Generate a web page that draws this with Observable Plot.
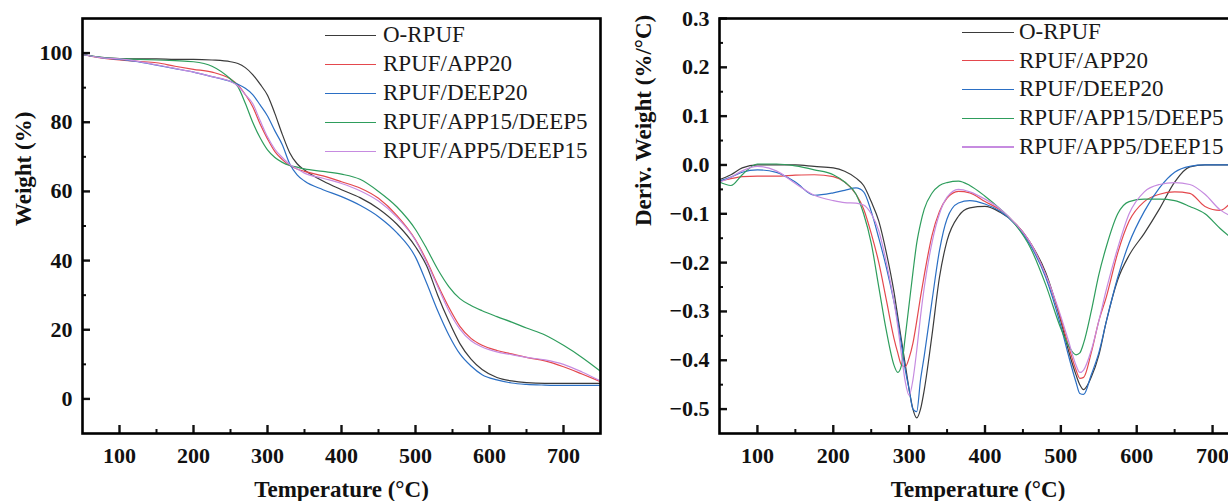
<!DOCTYPE html>
<html><head><meta charset="utf-8">
<script src="https://cdn.jsdelivr.net/npm/d3@7"></script>
<script src="https://cdn.jsdelivr.net/npm/@observablehq/plot@0.6"></script>
<style>
body{margin:0;background:#fff;}
#wrap{position:relative;width:1228px;height:501px;overflow:hidden;background:#fff;font-family:"Liberation Serif","Times New Roman",serif;}
.p{position:absolute;top:0;}
.p text{font-family:"Liberation Serif","Times New Roman",serif !important;}
.row{position:absolute;height:26px;line-height:26px;font-size:23px;color:#1a1a1a;white-space:nowrap;}
.row .ln{position:absolute;left:0;top:12.5px;height:1.3px;}
.row .tx{position:absolute;top:0;}
</style></head><body><div id="wrap"></div>
<script>
const series = ["O-RPUF","RPUF/APP20","RPUF/DEEP20","RPUF/APP15/DEEP5","RPUF/APP5/DEEP15"];
const colors = ["#3b3b3b","#e4484d","#2b6fc4","#2e9d5c","#c68be0"];

// TGA (left)
const tgaTemp = [50,75,100,125,150,175,200,225,250,260,270,280,290,300,310,320,330,340,350,375,400,425,450,475,500,515,530,545,560,575,590,610,630,650,675,700,725,750];
const tgaORPUF = [99.6,98.8,98.4,98.3,98.3,98.2,98.2,98,97.5,97,95.8,93.8,91,87.8,82.5,76.5,71.2,68,66.2,63,60.5,58.2,55,50.5,44,38.5,30,22.5,16,11.5,8.5,6.2,5.2,4.7,4.5,4.5,4.5,4.5];
const tgaAPP20 = [99.6,98.6,98,97.6,97.2,96.2,95.3,94.5,92.5,90.8,88,84.5,79.5,75.2,71.5,69.2,67.5,66.5,65.8,64.5,62.8,61,58,53,46,40,33,26.5,21,17.5,15.5,14,13,12,11,9.3,7.2,5];
const tgaDEEP20 = [99.6,98.7,98.2,97.5,96.5,95.5,94.5,93.2,91.8,91,89.8,88,85,81.8,77.5,73.5,68,64.8,63,60.5,58.5,56,52.7,48,41,33.5,25.5,18.5,13,9.5,7,5.5,4.6,4.2,4,3.9,3.9,3.9];
const tgaAPP15DEEP5 = [99.6,98.8,98.4,98.2,98,97.8,97.5,96.2,92.5,90.3,85.5,80,75.5,72,69.8,68.4,67.5,67,66.5,65.8,65,63.5,60,55.5,49,43.5,37.5,32.5,29,27,25.5,23.8,22.2,20.5,18.5,15.5,12,8];
const tgaAPP5DEEP15 = [99.6,98.7,98.3,97.6,96.6,95.6,94.5,93.2,91.8,90.5,88,85.4,80.5,75.8,72.2,69.8,67.8,66.5,65.3,63.8,62.3,60.2,57.2,52.5,45.8,39.5,32.5,25.5,20.2,16.8,15,13.6,12.8,12,11.3,10,7.8,5.2];

// DTG (right)
const dtgTemp = [50,65,80,100,125,150,175,200,215,230,240,250,260,270,280,285,290,295,300,305,310,315,320,330,340,350,365,380,400,420,440,460,480,500,510,520,525,530,540,550,560,575,590,610,630,650,670,690,710,725];
const dtgORPUF = [-0.03,-0.02,-0.006,0,0,0,-0.003,-0.006,-0.013,-0.027,-0.042,-0.075,-0.115,-0.18,-0.26,-0.31,-0.36,-0.41,-0.46,-0.5,-0.518,-0.5,-0.46,-0.35,-0.23,-0.155,-0.105,-0.088,-0.085,-0.097,-0.12,-0.16,-0.22,-0.32,-0.38,-0.43,-0.45,-0.46,-0.435,-0.39,-0.32,-0.235,-0.185,-0.14,-0.09,-0.035,-0.004,0,0,0];
const dtgAPP20 = [-0.033,-0.028,-0.024,-0.023,-0.023,-0.021,-0.02,-0.024,-0.035,-0.06,-0.09,-0.14,-0.2,-0.277,-0.355,-0.385,-0.41,-0.413,-0.395,-0.365,-0.32,-0.27,-0.225,-0.145,-0.095,-0.068,-0.054,-0.057,-0.075,-0.092,-0.12,-0.16,-0.225,-0.315,-0.37,-0.42,-0.437,-0.435,-0.385,-0.32,-0.27,-0.18,-0.115,-0.075,-0.06,-0.055,-0.058,-0.085,-0.093,-0.075];
const dtgDEEP20 = [-0.033,-0.025,-0.015,-0.01,-0.015,-0.035,-0.062,-0.057,-0.052,-0.047,-0.055,-0.095,-0.15,-0.21,-0.28,-0.32,-0.37,-0.42,-0.46,-0.5,-0.505,-0.44,-0.39,-0.28,-0.175,-0.11,-0.078,-0.073,-0.08,-0.095,-0.122,-0.165,-0.23,-0.33,-0.39,-0.445,-0.468,-0.47,-0.43,-0.385,-0.32,-0.23,-0.16,-0.095,-0.047,-0.015,-0.003,0,0,0];
const dtgAPP15DEEP5 = [-0.035,-0.042,-0.02,0.002,0.002,-0.002,-0.01,-0.02,-0.035,-0.06,-0.1,-0.16,-0.25,-0.34,-0.41,-0.425,-0.41,-0.35,-0.285,-0.22,-0.16,-0.12,-0.09,-0.058,-0.042,-0.036,-0.033,-0.042,-0.064,-0.09,-0.122,-0.17,-0.245,-0.335,-0.37,-0.389,-0.385,-0.365,-0.3,-0.225,-0.167,-0.1,-0.075,-0.07,-0.07,-0.073,-0.085,-0.1,-0.13,-0.15];
const dtgAPP5DEEP15 = [-0.035,-0.025,-0.012,-0.003,-0.012,-0.038,-0.062,-0.073,-0.077,-0.078,-0.082,-0.1,-0.135,-0.2,-0.28,-0.33,-0.39,-0.445,-0.472,-0.44,-0.38,-0.31,-0.25,-0.16,-0.1,-0.066,-0.05,-0.055,-0.07,-0.09,-0.12,-0.16,-0.225,-0.31,-0.36,-0.41,-0.425,-0.42,-0.38,-0.32,-0.255,-0.17,-0.1,-0.055,-0.04,-0.036,-0.04,-0.06,-0.092,-0.105];

const xMajor = [100,200,300,400,500,600,700];
const xMinor = [150,250,350,450,550,650];
const yMajorL = [0,20,40,60,80,100];
const yMinorL = [10,30,50,70,90];
const yMajorR = [-0.5,-0.4,-0.3,-0.2,-0.1,0,0.1,0.2,0.3];
const yMinorR = [-0.45,-0.35,-0.25,-0.15,-0.05,0.05,0.15,0.25];

const serif = "'Liberation Serif', 'Times New Roman', serif";

function toRows(temp, arrs) {
  const rows = [];
  arrs.forEach((a, i) => a.forEach((v, j) => rows.push({t: temp[j], v, s: series[i]})));
  return rows;
}
const tgaRows = toRows(tgaTemp, [tgaORPUF, tgaAPP20, tgaDEEP20, tgaAPP15DEEP5, tgaAPP5DEEP15]);
const dtgRows = toRows(dtgTemp, [dtgORPUF, dtgAPP20, dtgDEEP20, dtgAPP15DEEP5, dtgAPP5DEEP15]);

function panel(o) {
  return Plot.plot({
    width: o.width, height: 501,
    marginLeft: o.marginLeft, marginRight: 14, marginTop: 18, marginBottom: 68,
    style: {fontFamily: serif, fontSize: "22px", fontWeight: "bold", color: "#111", background: "transparent", overflow: "visible"},
    x: {domain: [50, 750]},
    y: {domain: o.yDomain},
    color: {domain: series, range: colors},
    marks: [
      Plot.line(o.data, {x: "t", y: "v", z: "s", stroke: "s", strokeWidth: 1.2, curve: "monotone-x"}),
      Plot.axisX({ticks: xMajor, tickSize: -8, tickPadding: 22, strokeWidth: 2.4, tickFormat: d3.format("d"), label: null, fontFamily: serif, fontSize: 22, fontWeight: "bold"}),
      Plot.axisX({ticks: xMinor, tickSize: -4, strokeWidth: 2, tickFormat: () => "", label: null}),
      Plot.axisY({ticks: o.yMajor, tickSize: -8, tickPadding: 18, strokeWidth: 2.4, tickFormat: o.yFormat, label: null, fontFamily: serif, fontSize: 22, fontWeight: "bold"}),
      Plot.axisY({ticks: o.yMinor, tickSize: -4, strokeWidth: 2, tickFormat: () => "", label: null}),
      Plot.frame({stroke: "#000", strokeWidth: 2.6}),
      Plot.text([o.ylabel], {text: d => d, frameAnchor: "left", dx: o.ylabelDx, rotate: -90, fontSize: 23, fontWeight: "bold", fontFamily: serif, lineAnchor: "middle"}),
      Plot.text(["Temperature (°C)"], {text: d => d, frameAnchor: "bottom", dy: 56, dx: o.xlabelDx, fontSize: 23, fontWeight: "bold", fontFamily: serif, lineAnchor: "middle", letterSpacing: "0.5px"})
    ]
  });
}

const wrap = document.getElementById("wrap");
const left = panel({width: 614, marginLeft: 82, data: tgaRows, yDomain: [-10, 110], yMajor: yMajorL, yMinor: yMinorL, yFormat: d3.format("d"), ylabel: "Weight (%)", ylabelDx: -59, xlabelDx: 0});
left.classList.add("p"); left.style.left = "0px";
wrap.appendChild(left);
const right = panel({width: 650, marginLeft: 105, data: dtgRows, yDomain: [-0.55, 0.3], yMajor: yMajorR, yMinor: yMinorR, yFormat: d3.format(".1f"), ylabel: "Deriv. Weight (%/°C)", ylabelDx: -76, xlabelDx: -7});
right.classList.add("p"); right.style.left = "614px";
wrap.appendChild(right);

function legend(x0, lineW, textX, y0, dy) {
  series.forEach((s, i) => {
    const row = document.createElement("div");
    row.className = "row";
    row.style.left = x0 + "px";
    row.style.top = (y0 + dy * i - 13) + "px";
    const ln = document.createElement("div");
    ln.className = "ln"; ln.style.width = lineW + "px"; ln.style.background = colors[i];
    const tx = document.createElement("span");
    tx.className = "tx"; tx.style.left = textX + "px"; tx.textContent = s;
    row.appendChild(ln); row.appendChild(tx);
    wrap.appendChild(row);
  });
}
legend(325, 51, 58, 35, 29);
legend(962, 52, 57, 32, 28.7);
</script></body></html>
